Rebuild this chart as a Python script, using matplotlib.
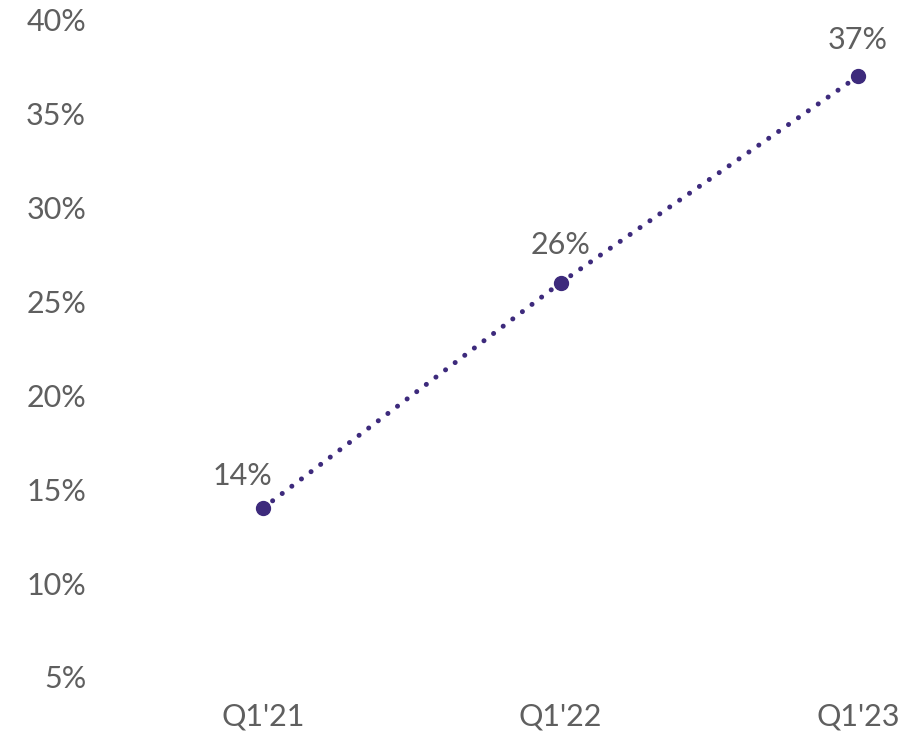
import matplotlib
matplotlib.use("Agg")
import matplotlib.pyplot as plt

plt.rcParams['font.family'] = ['Lato', 'DejaVu Sans']

quarters = ["Q1'21", "Q1'22", "Q1'23"]
share = [14, 26, 37]
label_offsets = [(-15, 13), (0, 17), (0, 16)]

purple = '#3d2a7c'
grey = '#5f5f5f'

fig = plt.figure(figsize=(9.2, 7.32), dpi=100)
# axes placed so that data positions match the reference layout
ax = fig.add_axes([100 / 920, 55 / 732, 810 / 920, 657 / 732])

x = list(range(len(quarters)))
ax.plot(x, share, color=purple, linewidth=3.6, linestyle=(0, (0.01, 2.4)),
        dash_capstyle='round', marker='o', markersize=10,
        markerfacecolor=purple, markeredgecolor=purple)

for xi, v, off in zip(x, share, label_offsets):
    ax.annotate(f"{v}%", (xi, v), xytext=off, textcoords='offset points',
                ha='center', va='bottom', fontsize=22, color=grey)

ax.set_xlim((100 - 263) / 297.5, (910 - 263) / 297.5)
ax.set_ylim(5, 40)
ax.set_xticks(x)
ax.set_xticklabels(quarters)
ax.set_yticks(range(5, 41, 5))
ax.set_yticklabels([f"{t}%" for t in range(5, 41, 5)])
ax.tick_params(length=0, labelsize=22, labelcolor=grey)
ax.tick_params(axis='x', pad=18)
ax.tick_params(axis='y', pad=10)
for s in ax.spines.values():
    s.set_visible(False)

fig.savefig('out.png', dpi=100)
